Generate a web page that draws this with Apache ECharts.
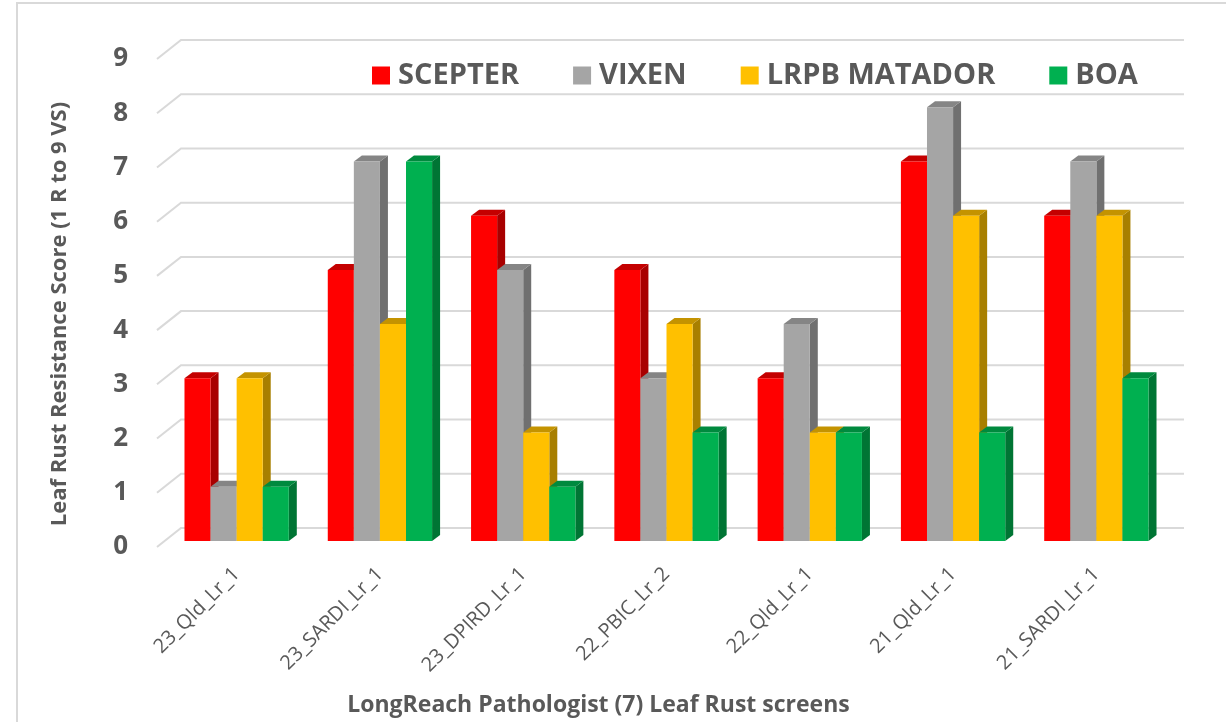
<!DOCTYPE html>
<html>
<head>
<meta charset="utf-8">
<script src="https://cdn.jsdelivr.net/npm/echarts@6/dist/echarts.min.js"></script>
<style>
  html, body { margin: 0; padding: 0; background: #fff; }
  #chart { width: 1226px; height: 722px; }
</style>
</head>
<body>
<div id="chart"></div>
<script>
var categories = ['23_Qld_Lr_1', '23_SARDI_Lr_1', '23_DPIRD_Lr_1', '22_PBIC_Lr_2', '22_Qld_Lr_1', '21_Qld_Lr_1', '21_SARDI_Lr_1'];
var varieties = ['SCEPTER', 'VIXEN', 'LRPB MATADOR', 'BOA'];
var scepter = [3, 5, 6, 5, 3, 7, 6];
var vixen   = [1, 7, 5, 3, 4, 8, 7];
var matador = [3, 4, 2, 4, 2, 6, 6];
var boa     = [1, 7, 1, 2, 2, 2, 3];
var yTicks  = [0, 1, 2, 3, 4, 5, 6, 7, 8, 9];

var values = [scepter, vixen, matador, boa];
// front, top, side shades (Excel-like 3D columns)
var colors = [
  ['#FF0000', '#C40000', '#A80000'],
  ['#A5A5A5', '#858585', '#707070'],
  ['#FFC000', '#C49300', '#A87F00'],
  ['#00B050', '#008A3E', '#007534']
];
var textGrey = '#595959';
var font = '"Open Sans", "Liberation Sans", sans-serif';

var chart = echarts.init(document.getElementById('chart'));

// back wall + side wall gridlines
function renderGrid(params, api) {
  var cs = params.coordSys;
  var y = api.coord([0, api.value(1)])[1];
  var x0 = cs.x - 8;
  var dx = 24, dy = -19;
  return {
    type: 'polyline',
    shape: { points: [[x0, y], [x0 + dx, y + dy], [cs.x + cs.width + 16, y + dy]] },
    style: { stroke: '#D9D9D9', lineWidth: 2, fill: null },
    silent: true
  };
}

function barRenderer(k) {
  return function (params, api) {
    var i = api.value(0);
    var top = api.coord([i, api.value(1)]);
    var base = api.coord([i, 0]);
    var band = api.size([1, 0])[0];
    var w = band * 0.182;
    var xl = top[0] - 2 * w + k * w;
    var xr = xl + w;
    var yt = top[1] - 6;
    var yb = base[1] - 6;
    var dx = 8, dy = -6;
    var c = colors[k];
    return {
      type: 'group',
      children: [
        { type: 'polygon', shape: { points: [[xr, yt], [xr + dx, yt + dy], [xr + dx, yb + dy], [xr, yb]] }, style: { fill: c[2] } },
        { type: 'polygon', shape: { points: [[xl, yt], [xl + dx, yt + dy], [xr + dx, yt + dy], [xr, yt]] }, style: { fill: c[1] } },
        { type: 'rect', shape: { x: xl, y: yt, width: w, height: yb - yt }, style: { fill: c[0] } }
      ]
    };
  };
}

var series = [{
  type: 'custom',
  name: 'grid',
  silent: true,
  z: 1,
  renderItem: renderGrid,
  data: yTicks.map(function (v) { return [0, v]; })
}];

varieties.forEach(function (name, k) {
  series.push({
    type: 'custom',
    name: name,
    z: 2,
    itemStyle: { color: colors[k][0] },
    renderItem: barRenderer(k),
    data: values[k].map(function (v, i) { return [i, v]; })
  });
});

var option = {
  backgroundColor: '#ffffff',
  animation: false,
  graphic: [{
    type: 'rect',
    shape: { x: 17, y: 3, width: 1400, height: 900 },
    style: { fill: null, stroke: '#D9D9D9', lineWidth: 2 },
    silent: true
  }],
  legend: {
    data: varieties,
    left: 372,
    top: 61,
    padding: 0,
    icon: 'rect',
    itemWidth: 18,
    itemHeight: 18,
    itemGap: 54,
    textStyle: { color: textGrey, fontSize: 29, fontWeight: 'bold', fontFamily: font, padding: [0, 0, 0, 3] }
  },
  grid: { left: 165, right: 58, top: 59, bottom: 175, outerBoundsMode: 'none' },
  xAxis: {
    type: 'category',
    data: categories,
    name: 'LongReach Pathologist (7) Leaf Rust screens',
    nameLocation: 'middle',
    nameGap: 147,
    nameTextStyle: { color: textGrey, fontSize: 23, fontWeight: 'bold', fontFamily: font, padding: [0, 136, 0, 0] },
    axisLine: { show: false },
    axisTick: { show: false },
    axisLabel: { rotate: 45, margin: 24, color: textGrey, fontSize: 20, fontFamily: font, interval: 0 }
  },
  yAxis: {
    type: 'value',
    min: 0,
    max: 9,
    interval: 1,
    name: 'Leaf Rust Resistance Score (1 R to 9 VS)',
    nameLocation: 'middle',
    nameGap: 94,
    nameTextStyle: { color: textGrey, fontSize: 22, fontWeight: 'bold', fontFamily: font, padding: [0, 22, 0, 0] },
    axisLine: { show: false },
    axisTick: { show: false },
    splitLine: { show: false },
    axisLabel: { margin: 37, color: textGrey, fontSize: 26, fontWeight: 'bold', fontFamily: font }
  },
  series: series
};

chart.setOption(option);
</script>
</body>
</html>
